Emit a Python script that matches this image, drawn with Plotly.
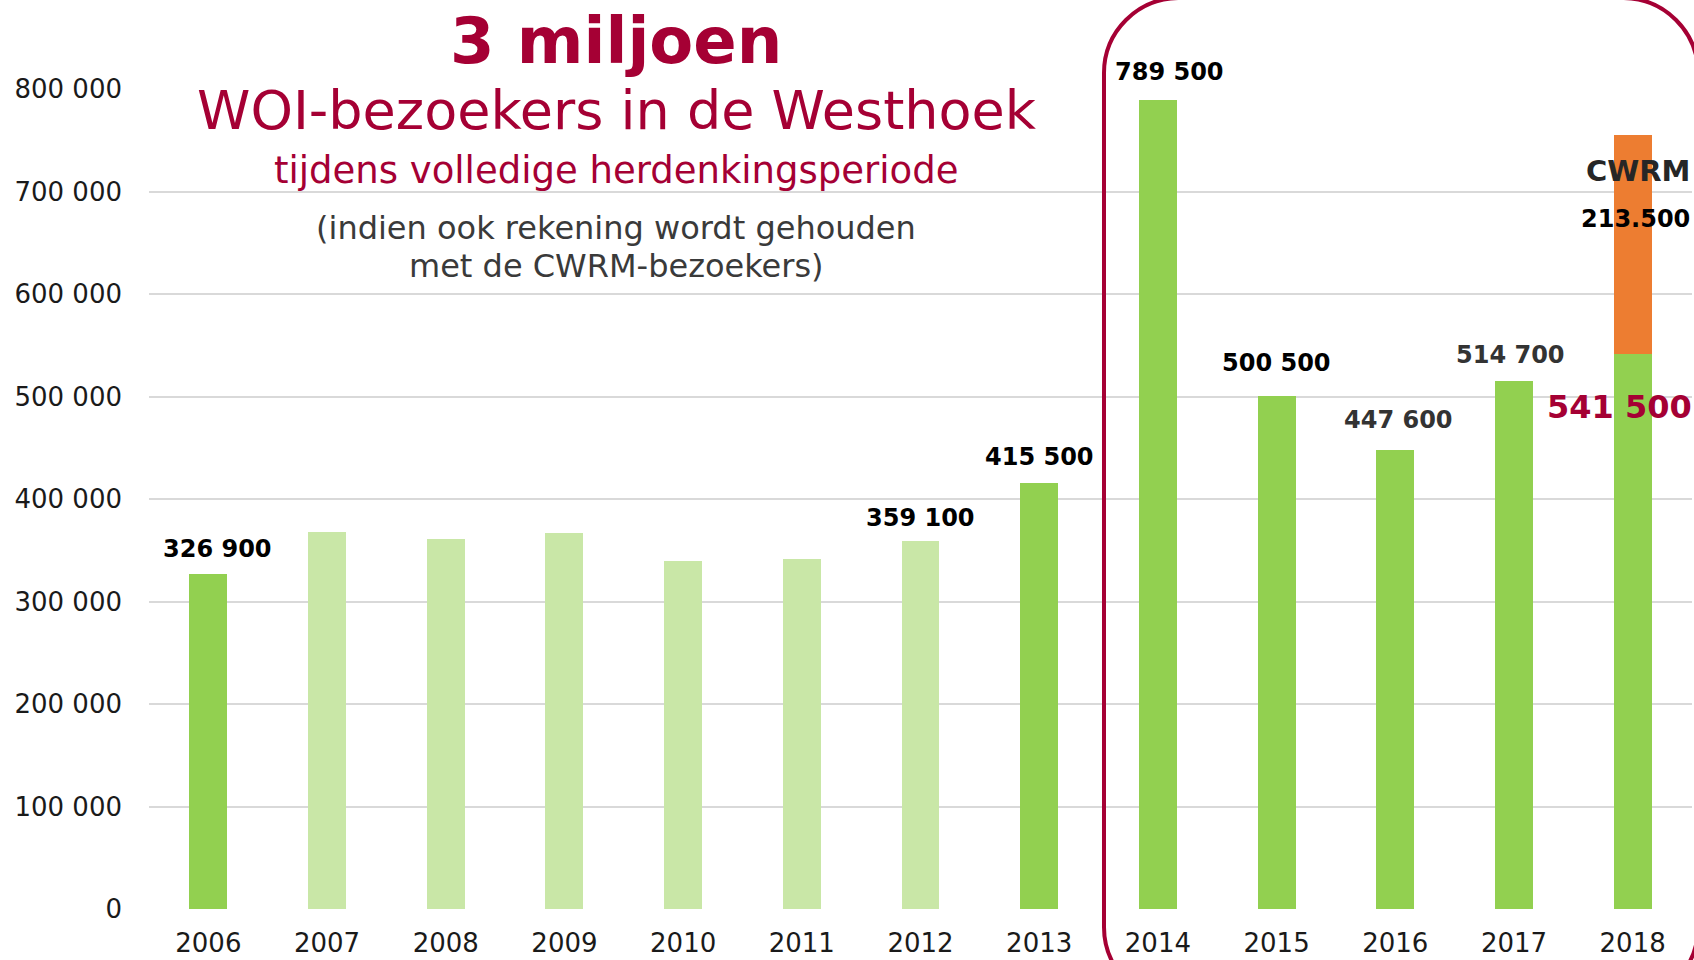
import plotly.graph_objects as go

years = ["2006", "2007", "2008", "2009", "2010", "2011", "2012", "2013",
         "2014", "2015", "2016", "2017", "2018"]
woi_visitors = [326900, 368000, 361000, 367000, 340000, 341000, 359100, 415500,
                789500, 500500, 447600, 514700, 541500]
cwrm_visitors = [None] * 12 + [213500]
highlighted = [True, False, False, False, False, False, False, True,
               True, True, True, True, True]
y_ticks = [0, 100000, 200000, 300000, 400000, 500000, 600000, 700000, 800000]
y_tick_labels = ["0", "100 000", "200 000", "300 000", "400 000", "500 000",
                 "600 000", "700 000", "800 000"]

# labelled bars: (index, text, color, yshift, xshift, size)
value_labels = [
    (0, "326 900", "#000000", 25, 9, 24),
    (6, "359 100", "#000000", 23, 0, 24),
    (7, "415 500", "#000000", 26, 0, 24),
    (8, "789 500", "#000000", 28, 12, 24),
    (9, "500 500", "#000000", 33, 0, 24),
    (10, "447 600", "#333333", 30, 3, 24),
    (11, "514 700", "#333333", 26, -3, 24),
]

CRIMSON = "#A50034"
GREEN = "#92D050"
LIGHT_GREEN = "#C9E7A7"
ORANGE = "#ED7D31"
FONT = "DejaVu Sans"

W, H = 1694, 960
L, R, T, B = 149, 2, 89, 51
pw, ph = W - L - R, H - T - B

colors = [GREEN if h else LIGHT_GREEN for h in highlighted]

fig = go.Figure()
fig.add_trace(go.Bar(x=years, y=woi_visitors, marker=dict(color=colors, line=dict(width=0)),
                     width=0.32, name="WOI", showlegend=False, hoverinfo="skip"))
fig.add_trace(go.Bar(x=years, y=cwrm_visitors, marker=dict(color=ORANGE, line=dict(width=0)),
                     width=0.32, name="CWRM", showlegend=False, hoverinfo="skip"))

annotations = []
for i, txt, col, ys, xs, sz in value_labels:
    annotations.append(dict(x=i, y=woi_visitors[i], xref="x", yref="y", text=f"<b>{txt}</b>",
                            showarrow=False, yshift=ys, xshift=xs,
                            font=dict(family=FONT, size=sz, color=col)))
# 2018 annotations
total_2018 = woi_visitors[12] + cwrm_visitors[12]
annotations.append(dict(x=12, y=woi_visitors[12], xref="x", yref="y", text="<b>541 500</b>",
                        showarrow=False, yshift=-53, xshift=-13,
                        font=dict(family=FONT, size=32, color=CRIMSON)))
annotations.append(dict(x=12, y=total_2018, xref="x", yref="y",
                        text="<b>CWRM</b>", showarrow=False, yshift=-36, xshift=5,
                        font=dict(family=FONT, size=29, color="#262626")))
annotations.append(dict(x=12, y=total_2018, xref="x", yref="y",
                        text="<b>213.500</b>", showarrow=False, yshift=-84, xshift=3,
                        font=dict(family=FONT, size=24, color="#000000")))

def px_x(p):
    return (p - L) / pw

def px_y(p):
    return (H - B - p) / ph

# titles (pixel centre positions)
titles = [
    ("<b>3 miljoen</b>", 616, 41, 64, CRIMSON),
    ("WOI-bezoekers in de Westhoek", 617, 110, 54, CRIMSON),
    ("tijdens volledige herdenkingsperiode", 616, 170, 37, CRIMSON),
    ("(indien ook rekening wordt gehouden", 616, 228, 32, "#3A3A3A"),
    ("met de CWRM-bezoekers)", 616, 266, 32, "#3A3A3A"),
]
for txt, cx, cy, sz, col in titles:
    annotations.append(dict(x=px_x(cx), y=px_y(cy), xref="paper", yref="paper", text=txt,
                            showarrow=False, xanchor="center", yanchor="middle",
                            font=dict(family=FONT, size=sz, color=col)))

# rounded highlight rectangle (pixel -> paper)
x0, x1, y0, y1, r = 1104, 1698, -2, 1002, 75
k = 0.5523 * r
def P(x, y):
    return f"{px_x(x):.5f},{px_y(y):.5f}"
path = (f"M {P(x0, y0 + r)} "
        f"C {P(x0, y0 + r - k)} {P(x0 + r - k, y0)} {P(x0 + r, y0)} "
        f"L {P(x1 - r, y0)} "
        f"C {P(x1 - r + k, y0)} {P(x1, y0 + r - k)} {P(x1, y0 + r)} "
        f"L {P(x1, y1 - r)} "
        f"C {P(x1, y1 - r + k)} {P(x1 - r + k, y1)} {P(x1 - r, y1)} "
        f"L {P(x0 + r, y1)} "
        f"C {P(x0 + r - k, y1)} {P(x0, y1 - r + k)} {P(x0, y1 - r)} Z")

fig.update_layout(
    width=W, height=H,
    margin=dict(l=L, r=R, t=T, b=B, pad=0, autoexpand=False),
    paper_bgcolor="white", plot_bgcolor="white",
    barmode="stack",
    bargap=0.68,
    font=dict(family=FONT, size=26, color="#1a1a1a"),
    annotations=annotations,
    shapes=[dict(type="path", path=path, xref="paper", yref="paper",
                 line=dict(color=CRIMSON, width=4), fillcolor="rgba(0,0,0,0)", layer="above")],
    showlegend=False,
)
fig.update_xaxes(type="category", range=[-0.5, 12.5], showgrid=False, showline=False,
                 zeroline=False, ticks="", ticklabelstandoff=16, automargin=False,
                 tickfont=dict(family=FONT, size=26, color="#1a1a1a"))
fig.update_yaxes(range=[0, 800000], tickvals=y_ticks, ticktext=y_tick_labels,
                 showgrid=True, gridcolor="#D9D9D9", gridwidth=2, zeroline=False,
                 showline=False, ticks="", ticklabelstandoff=26, automargin=False,
                 tickfont=dict(family=FONT, size=26, color="#1a1a1a"))

fig.write_html("out.html", config={"displayModeBar": False},
               post_script="document.body.style.margin='0';document.body.style.overflow='hidden';")
